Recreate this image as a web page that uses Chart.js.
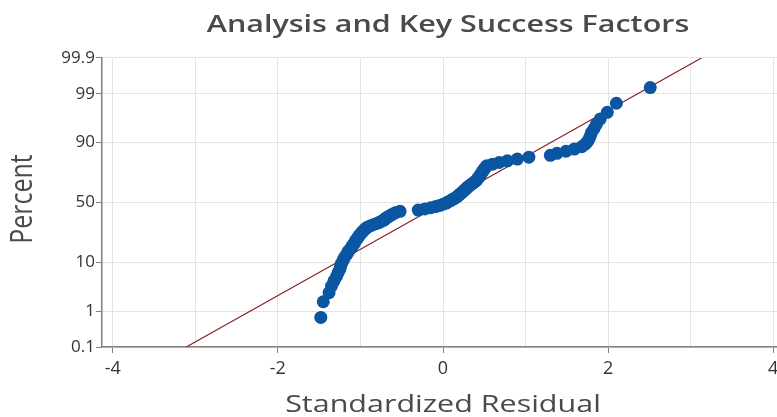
<!DOCTYPE html>
<html>
<head>
<meta charset="utf-8">
<script src="https://cdn.jsdelivr.net/npm/chart.js@4.4.1/dist/chart.umd.min.js"></script>
<style>
  html, body { margin: 0; padding: 0; background: #ffffff; overflow: hidden; }
  #wrap { position: relative; width: 792px; height: 417px; }
</style>
</head>
<body>
<div id="wrap"><canvas id="chart" width="792" height="417"></canvas></div>
<script>
// Sorted standardized residuals
const residuals = [
  -1.48, -1.45, -1.38, -1.35, -1.32, -1.29, -1.27, -1.25, -1.24, -1.23,
  -1.21, -1.20, -1.18, -1.16, -1.15, -1.13, -1.11, -1.10, -1.08, -1.07,
  -1.06, -1.045, -1.03, -1.02, -1.005, -0.99, -0.975, -0.96, -0.94, -0.925,
  -0.89, -0.855, -0.81, -0.77, -0.74, -0.71, -0.70, -0.675, -0.65, -0.625,
  -0.60, -0.57, -0.52, -0.30, -0.22, -0.15, -0.09, -0.04, 0.00, 0.04,
  0.06, 0.09, 0.11, 0.14, 0.16, 0.18, 0.195, 0.21, 0.23, 0.245,
  0.26, 0.28, 0.29, 0.31, 0.33, 0.35, 0.37, 0.39, 0.41, 0.42,
  0.43, 0.445, 0.455, 0.465, 0.475, 0.49, 0.50, 0.515, 0.53, 0.60,
  0.68, 0.78, 0.90, 1.04, 1.30, 1.38, 1.49, 1.59, 1.68, 1.72,
  1.75, 1.77, 1.785, 1.80, 1.83, 1.86, 1.905, 1.99, 2.10, 2.51
];
// Cumulative percent for each residual
const percents = [
  0.70, 1.69, 2.69, 3.69, 4.68, 5.68, 6.67, 7.67, 8.67, 9.66,
  10.66, 11.65, 12.65, 13.65, 14.64, 15.64, 16.63, 17.63, 18.63, 19.62,
  20.62, 21.61, 22.61, 23.61, 24.60, 25.60, 26.59, 27.59, 28.59, 29.58,
  30.58, 31.57, 32.57, 33.57, 34.56, 35.56, 36.55, 37.55, 38.55, 39.54,
  40.54, 41.53, 42.53, 43.53, 44.52, 45.52, 46.51, 47.51, 48.51, 49.50,
  50.50, 51.49, 52.49, 53.49, 54.48, 55.48, 56.47, 57.47, 58.47, 59.46,
  60.46, 61.45, 62.45, 63.45, 64.44, 65.44, 66.43, 67.43, 68.43, 69.42,
  70.42, 71.41, 72.41, 73.41, 74.40, 75.40, 76.39, 77.39, 78.39, 79.38,
  80.38, 81.37, 82.37, 83.37, 84.36, 85.36, 86.35, 87.35, 88.35, 89.34,
  90.34, 91.33, 92.33, 93.33, 94.32, 95.32, 96.31, 97.31, 98.31, 99.30
];
// Reference line end points
const fitResiduals = [-3.11, 3.13];
const fitPercents = [0.1, 99.9];
// Probability-axis tick labels
const percentTicks = [0.1, 1, 10, 50, 90, 99, 99.9];
const percentTickLabels = ['0.1', '1', '10', '50', '90', '99', '99.9'];

// Inverse standard normal CDF (Acklam) used for the probability axis
function probit(p) {
  const a = [-3.969683028665376e+01, 2.209460984245205e+02, -2.759285104469687e+02, 1.383577518672690e+02, -3.066479806614716e+01, 2.506628277459239e+00];
  const b = [-5.447609879822406e+01, 1.615858368580409e+02, -1.556989798598866e+02, 6.680131188771972e+01, -1.328068155288572e+01];
  const c = [-7.784894002430293e-03, -3.223964580411365e-01, -2.400758277161838e+00, -2.549732539343734e+00, 4.374664141464968e+00, 2.938163982698783e+00];
  const d = [7.784695709041462e-03, 3.224671290700398e-01, 2.445134137142996e+00, 3.754408661907416e+00];
  const pl = 0.02425, ph = 1 - pl;
  let q, r;
  if (p < pl) {
    q = Math.sqrt(-2 * Math.log(p));
    return (((((c[0]*q+c[1])*q+c[2])*q+c[3])*q+c[4])*q+c[5]) / ((((d[0]*q+d[1])*q+d[2])*q+d[3])*q+1);
  }
  if (p <= ph) {
    q = p - 0.5; r = q * q;
    return (((((a[0]*r+a[1])*r+a[2])*r+a[3])*r+a[4])*r+a[5])*q / (((((b[0]*r+b[1])*r+b[2])*r+b[3])*r+b[4])*r+1);
  }
  q = Math.sqrt(-2 * Math.log(1 - p));
  return -(((((c[0]*q+c[1])*q+c[2])*q+c[3])*q+c[4])*q+c[5]) / ((((d[0]*q+d[1])*q+d[2])*q+d[3])*q+1);
}

const points = residuals.map((x, i) => ({ x: x, y: probit(percents[i] / 100) }));
const fitLine = fitResiduals.map((x, i) => ({ x: x, y: probit(fitPercents[i] / 100) }));

const FONT = "'Open Sans', 'Noto Sans', sans-serif";
const TEXT = '#4a4a4a';
const AXIS = '#808080';
const GRID = '#e3e3e3';
const WIDE = 1.27; // horizontal glyph widening for the titles

// Chart title and axis titles, placed relative to the plot area
const titlesPlugin = {
  id: 'titles',
  afterDraw(chart) {
    const { ctx, chartArea } = chart;
    const cx = (chartArea.left + chartArea.right) / 2;
    ctx.save();
    ctx.fillStyle = TEXT;
    ctx.textAlign = 'center';
    ctx.textBaseline = 'alphabetic';

    ctx.save();
    ctx.translate(cx + 5, 32);
    ctx.scale(WIDE, 1);
    ctx.font = `600 24px ${FONT}`;
    ctx.fillText('Analysis and Key Success Factors', 0, 0);
    ctx.restore();

    ctx.save();
    ctx.translate(cx, 412);
    ctx.scale(WIDE, 1);
    ctx.font = `400 24px ${FONT}`;
    ctx.fillText('Standardized Residual', 0, 0);
    ctx.restore();

    ctx.save();
    ctx.translate(32, 199);
    ctx.rotate(-Math.PI / 2);
    ctx.scale(1, WIDE);
    ctx.font = `400 25px ${FONT}`;
    ctx.fillText('Percent', 0, 0);
    ctx.restore();

    ctx.restore();
  }
};

new Chart(document.getElementById('chart'), {
  type: 'scatter',
  data: {
    datasets: [
      {
        label: 'Fit',
        type: 'line',
        data: fitLine,
        borderColor: '#8b2323',
        borderWidth: 1.2,
        pointRadius: 0,
        fill: false,
        order: 2
      },
      {
        label: 'Residuals',
        data: points,
        backgroundColor: '#0a56a3',
        borderColor: '#0a56a3',
        borderWidth: 0,
        pointRadius: 6.5,
        pointHoverRadius: 6.5,
        order: 1
      }
    ]
  },
  options: {
    responsive: false,
    animation: false,
    events: [],
    layout: { padding: { top: 58, right: 8, left: 0, bottom: 0 } },
    plugins: { legend: { display: false }, tooltip: { enabled: false }, title: { display: false } },
    scales: {
      x: {
        type: 'linear',
        min: -4.13,
        max: 4.13,
        afterBuildTicks(scale) {
          scale.ticks = [-4, -3, -2, -1, 0, 1, 2, 3, 4].map(v => ({ value: v }));
        },
        afterFit(scale) { scale.height = 70; },
        border: { display: true, color: AXIS, width: 1.5 },
        grid: {
          color: GRID,
          lineWidth: 1,
          tickLength: 6,
          tickColor: (ctx) => (ctx.tick && ctx.tick.value % 2 === 0) ? AXIS : 'rgba(0,0,0,0)'
        },
        ticks: {
          autoSkip: false,
          maxRotation: 0,
          padding: 5,
          color: '#333333',
          font: { family: FONT, size: 18 },
          callback: (v) => (v % 2 === 0 ? String(v) : '')
        }
      },
      y: {
        type: 'linear',
        min: probit(0.001),
        max: probit(0.999),
        afterBuildTicks(scale) {
          scale.ticks = percentTicks.map(p => ({ value: probit(p / 100) }));
        },
        afterFit(scale) { scale.width = 102; },
        border: { display: true, color: AXIS, width: 1.5 },
        grid: { color: GRID, lineWidth: 1, tickLength: 6, tickColor: AXIS },
        ticks: {
          autoSkip: false,
          padding: 1,
          color: '#333333',
          font: { family: FONT, size: 17 },
          callback: (v, i) => percentTickLabels[i]
        }
      }
    }
  },
  plugins: [titlesPlugin]
});
</script>
</body>
</html>
